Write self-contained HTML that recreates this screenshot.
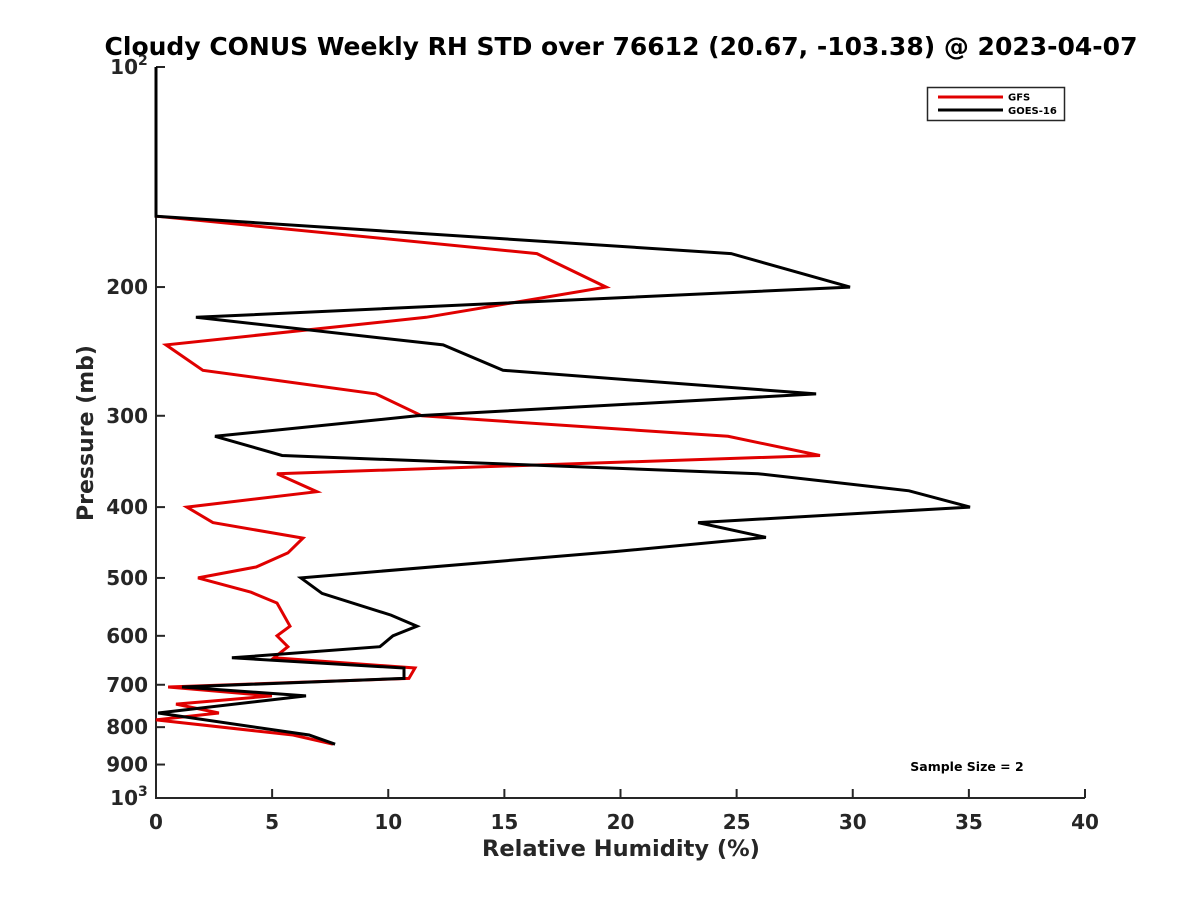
<!DOCTYPE html>
<html><head><meta charset="utf-8"><style>
body{margin:0;background:#fff;}
svg text{font-family:"DejaVu Sans","Liberation Sans",sans-serif;font-weight:bold;fill:#262626;}
</style></head><body>
<svg id="chart" width="1200" height="900" xmlns="http://www.w3.org/2000/svg">
<rect width="1200" height="900" fill="#fff"/>
<text x="621" y="55" text-anchor="middle" font-size="25" style="fill:#000">Cloudy CONUS Weekly RH STD over 76612 (20.67, -103.38) @ 2023-04-07</text>
<g id="axes"></g>
<g id="series"></g>
<g>
<rect x="927.5" y="87.5" width="137" height="33" fill="#fff" stroke="#262626" stroke-width="1.5"/>
<line x1="938" y1="97" x2="1003" y2="97" stroke="#e00000" stroke-width="3"/>
<text x="1008" y="100.5" font-size="10" style="fill:#000">GFS</text>
<line x1="938" y1="110" x2="1003" y2="110" stroke="#000" stroke-width="3"/>
<text x="1008" y="114" font-size="10" style="fill:#000">GOES-16</text>
</g>
<text x="967" y="771" text-anchor="middle" font-size="12.5" style="fill:#000">Sample Size = 2</text>
<text x="621" y="856" text-anchor="middle" font-size="22.5">Relative Humidity (%)</text>
<text transform="translate(93,433) rotate(-90)" text-anchor="middle" font-size="22">Pressure (mb)</text>
</svg>
<script>
const xTicks=[0,5,10,15,20,25,30,35,40];
const yTicks=[100,200,300,400,500,600,700,800,900,1000];
const yTickLabels=["10","200","300","400","500","600","700","800","900","10"];
const yTickSups=["2","","","","","","","","","3"];
const goesP=[100,160,180,200,220,240,260,280,300,320,340,360,380,400,420,440,460,500,525,562,582,600,621,643,664,686,705,725,765,820,844];
const goesRH=[0,0,24.76,29.88,1.72,12.36,14.94,28.42,11.24,2.54,5.43,25.92,32.42,35.05,23.34,26.26,19.8,6.24,7.15,10.12,11.24,10.2,9.64,3.27,10.68,10.68,1.12,6.46,0.09,6.59,7.71];
const gfsP=[100,160,180,200,220,240,260,280,300,320,340,360,381,400,420,441,462,483,500,523,541,582,600,621,643,664,686,705,725,744,765,782,820,844];
const gfsRH=[0,0,16.4,19.38,11.63,0.43,2.02,9.47,11.45,24.63,28.59,5.21,6.93,1.33,2.45,6.33,5.68,4.31,1.81,4.09,5.21,5.77,5.21,5.68,5.08,11.15,10.89,0.52,4.99,0.86,2.71,0,5.9,7.62];
const X0=156,X1=1085,Y0=67,Y1=798;
const xs=v=>X0+(v-0)/(40-0)*(X1-X0);
const ys=p=>Y0+(Math.log10(p)-2)*(Y1-Y0);
const NS="http://www.w3.org/2000/svg";
const axes=document.getElementById('axes'),series=document.getElementById('series');
function mk(t,a,parent){const e=document.createElementNS(NS,t);for(const k in a)e.setAttribute(k,a[k]);parent.appendChild(e);return e;}
const la=mk('path',{d:`M${X0},${Y0}V${Y1}H${X1}`,fill:'none',stroke:'#262626','stroke-width':2},axes);


xTicks.forEach(v=>{const x=xs(v);
const t=mk('line',{x1:x,x2:x,y1:Y1,y2:Y1-9,stroke:'#262626','stroke-width':2},axes);


const l=mk('text',{x:x,y:Y1+31,'text-anchor':'middle','font-size':20},axes);l.textContent=v;

});
yTicks.forEach((p,i)=>{const y=ys(p);
const t=mk('line',{x1:X0,x2:X0+9,y1:y,y2:y,stroke:'#262626','stroke-width':2},axes);


const sup=yTickSups[i];
const l=mk('text',{x:X0-(sup?18:8),y:y+7,'text-anchor':'end','font-size':20},axes);l.textContent=yTickLabels[i];


if(sup){const s=mk('text',{x:X0-18,y:y-2,'text-anchor':'start','font-size':14},axes);s.textContent=sup;

}});
function line(P,V,color,name){
const d=P.map((p,i)=>(i?'L':'M')+xs(V[i]).toFixed(1)+','+ys(p).toFixed(1)).join('');
const e=mk('path',{d:d,fill:'none',stroke:color,'stroke-width':3,'stroke-linejoin':'miter'},series);

}
line(gfsP,gfsRH,'#e00000','gfs-line');
line(goesP,goesRH,'#000','goes16-line');
</script>
</body></html>
